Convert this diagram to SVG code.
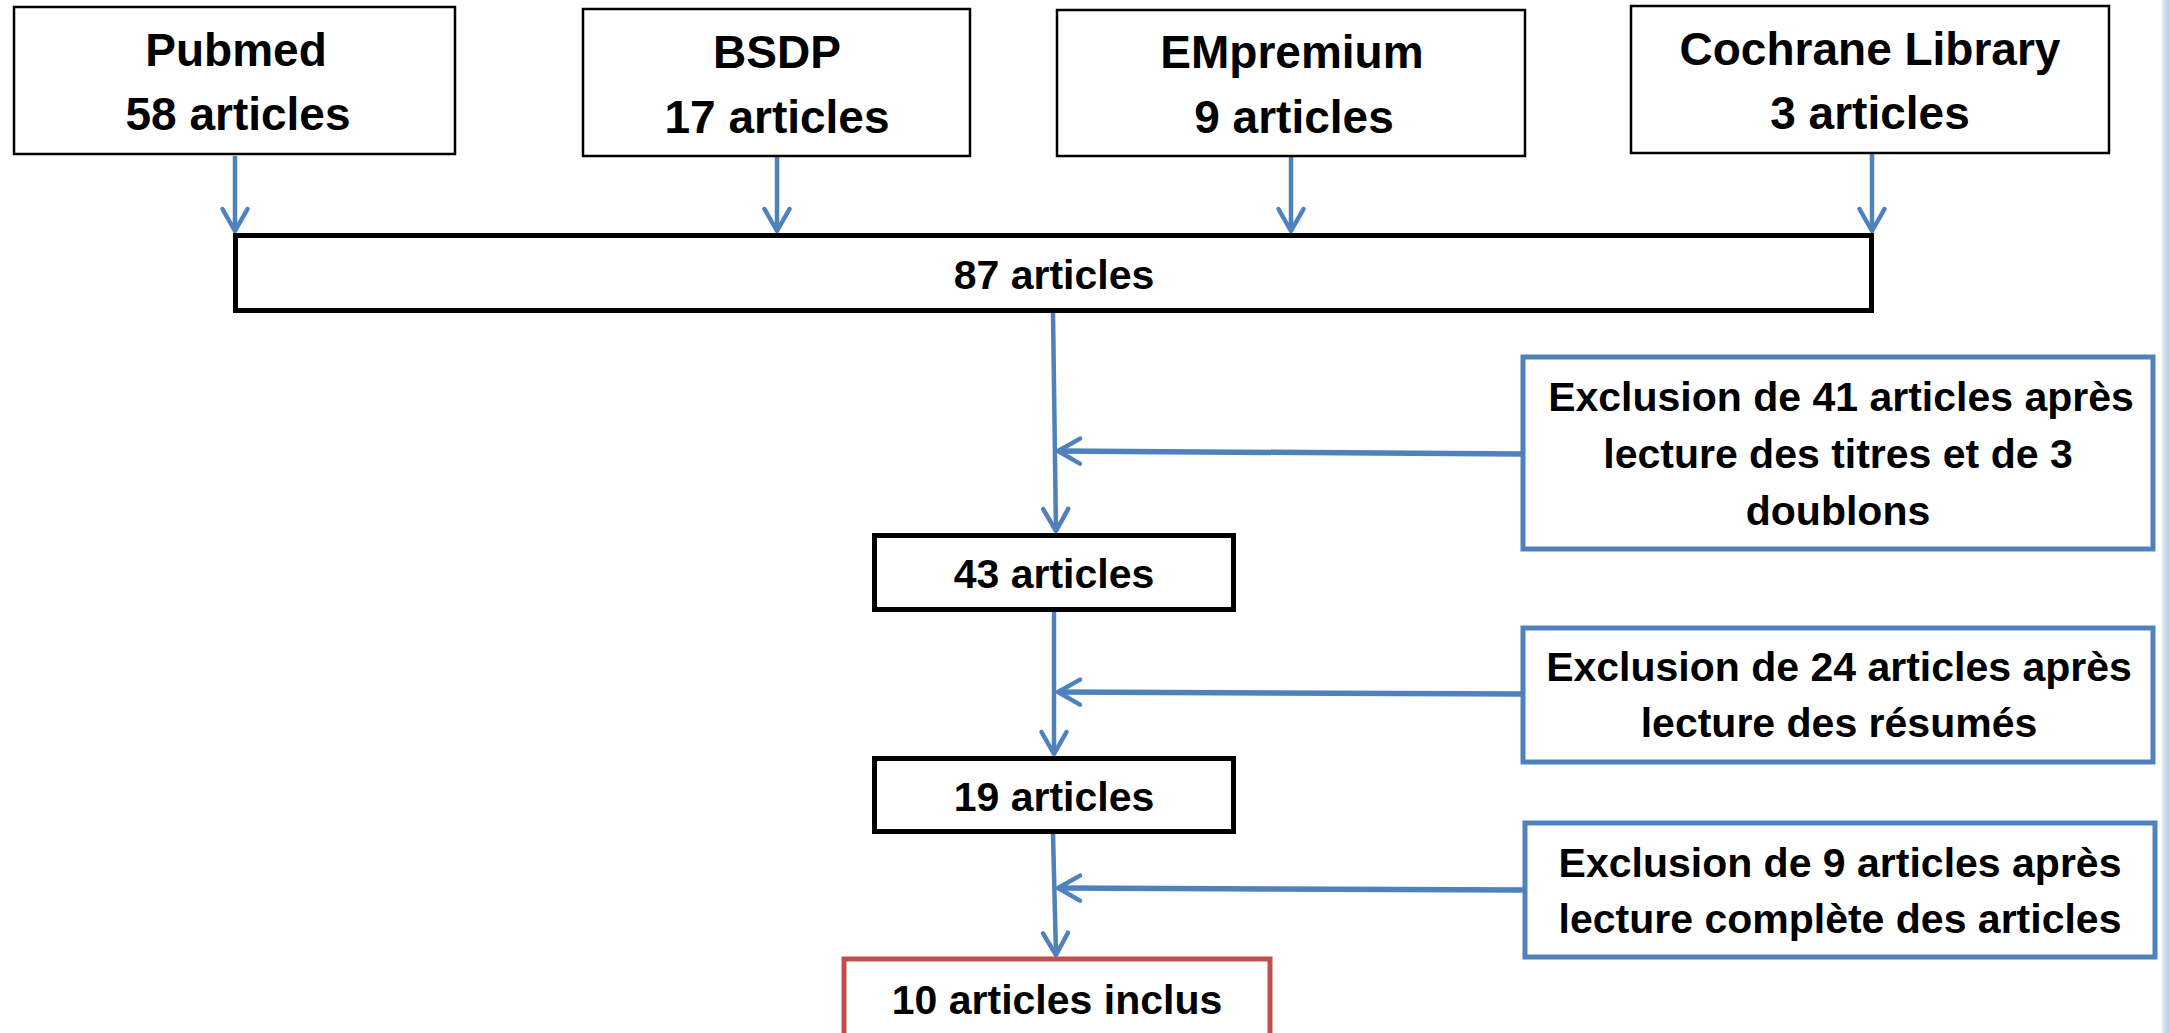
<svg xmlns="http://www.w3.org/2000/svg" width="2169" height="1033" viewBox="0 0 2169 1033">
  <style>
    .src { fill: #ffffff; stroke: #000000; stroke-width: 2.5; }
    .mid { fill: #ffffff; stroke: #000000; stroke-width: 5; }
    .exc { fill: #ffffff; stroke: #4F81BD; stroke-width: 5; }
    .fin { fill: #ffffff; stroke: #C0504D; stroke-width: 5; }
    .t1 { font-family: "Liberation Sans", Arial, sans-serif; font-weight: bold; font-size: 46px; fill: #000000; text-anchor: middle; }
    .t2 { font-family: "Liberation Sans", Arial, sans-serif; font-weight: bold; font-size: 41px; fill: #000000; text-anchor: middle; }
    .con { fill: none; stroke: #4F81BD; stroke-width: 4.5; marker-end: url(#arr); }
    .conh { fill: none; stroke: #4F81BD; stroke-width: 5.5; marker-end: url(#arr); }
  </style>
  <defs>
    <marker id="arr" markerUnits="userSpaceOnUse" viewBox="-28 -18 32 36" refX="0" refY="0" markerWidth="32" markerHeight="36" orient="auto">
      <path d="M-22,-12.5 L0,0 L-22,12.5" fill="none" stroke="#4F81BD" stroke-width="4.5" stroke-linecap="round" stroke-linejoin="round"/>
    </marker>
    <linearGradient id="edge" x1="0" y1="0" x2="1" y2="0">
      <stop offset="0" stop-color="#E3EBF5"/>
      <stop offset="1" stop-color="#B8CCE4"/>
    </linearGradient>
  </defs>
  <rect x="0" y="0" width="2169" height="1033" fill="#ffffff"/>
  <rect x="2162" y="0" width="7" height="1033" fill="url(#edge)"/>

  <g id="connectors">
    <line class="con" x1="235" y1="156" x2="235" y2="231"/>
    <line class="con" x1="777" y1="157" x2="777" y2="231"/>
    <line class="con" x1="1291" y1="157" x2="1291" y2="231"/>
    <line class="con" x1="1872" y1="154" x2="1872" y2="231"/>
    <line class="con" x1="1053" y1="313" x2="1056" y2="531"/>
    <line class="conh" x1="1521" y1="454" x2="1058" y2="451"/>
    <line class="con" x1="1054" y1="612" x2="1054" y2="754"/>
    <line class="conh" x1="1521" y1="694" x2="1058" y2="692"/>
    <line class="con" x1="1053" y1="834" x2="1056" y2="955"/>
    <line class="conh" x1="1523" y1="890" x2="1058" y2="888"/>
  </g>

  <g id="pubmed">
    <rect class="src" x="14" y="7" width="441" height="147"/>
    <text class="t1" x="236" y="66">Pubmed</text>
    <text class="t1" x="238" y="130">58 articles</text>
  </g>
  <g id="bsdp">
    <rect class="src" x="583" y="9" width="387" height="147"/>
    <text class="t1" x="777" y="68">BSDP</text>
    <text class="t1" x="777" y="133">17 articles</text>
  </g>
  <g id="empremium">
    <rect class="src" x="1057" y="10" width="468" height="146"/>
    <text class="t1" x="1292" y="68">EMpremium</text>
    <text class="t1" x="1294" y="133">9 articles</text>
  </g>
  <g id="cochrane">
    <rect class="src" x="1631" y="6" width="478" height="147"/>
    <text class="t1" x="1870" y="65">Cochrane Library</text>
    <text class="t1" x="1870" y="129">3 articles</text>
  </g>
  <g id="n87">
    <rect class="mid" x="235.5" y="235.5" width="1636" height="75"/>
    <text class="t2" x="1054" y="289">87 articles</text>
  </g>
  <g id="excl1">
    <rect class="exc" x="1523" y="357" width="630" height="192"/>
    <text class="t2" x="1841" y="411">Exclusion de 41 articles après</text>
    <text class="t2" x="1838" y="468">lecture des titres et de 3</text>
    <text class="t2" x="1838" y="525">doublons</text>
  </g>
  <g id="n43">
    <rect class="mid" x="874.5" y="535.5" width="359" height="74"/>
    <text class="t2" x="1054" y="588">43 articles</text>
  </g>
  <g id="excl2">
    <rect class="exc" x="1523" y="628" width="630" height="134"/>
    <text class="t2" x="1839" y="681">Exclusion de 24 articles après</text>
    <text class="t2" x="1839" y="737">lecture des résumés</text>
  </g>
  <g id="n19">
    <rect class="mid" x="874.5" y="758.5" width="359" height="73"/>
    <text class="t2" x="1054" y="811">19 articles</text>
  </g>
  <g id="excl3">
    <rect class="exc" x="1525" y="823" width="630" height="134"/>
    <text class="t2" x="1840" y="877">Exclusion de 9 articles après</text>
    <text class="t2" x="1840" y="933">lecture complète des articles</text>
  </g>
  <g id="n10">
    <rect class="fin" x="844" y="959" width="426" height="110"/>
    <text class="t2" x="1057" y="1014">10 articles inclus</text>
  </g>
</svg>
